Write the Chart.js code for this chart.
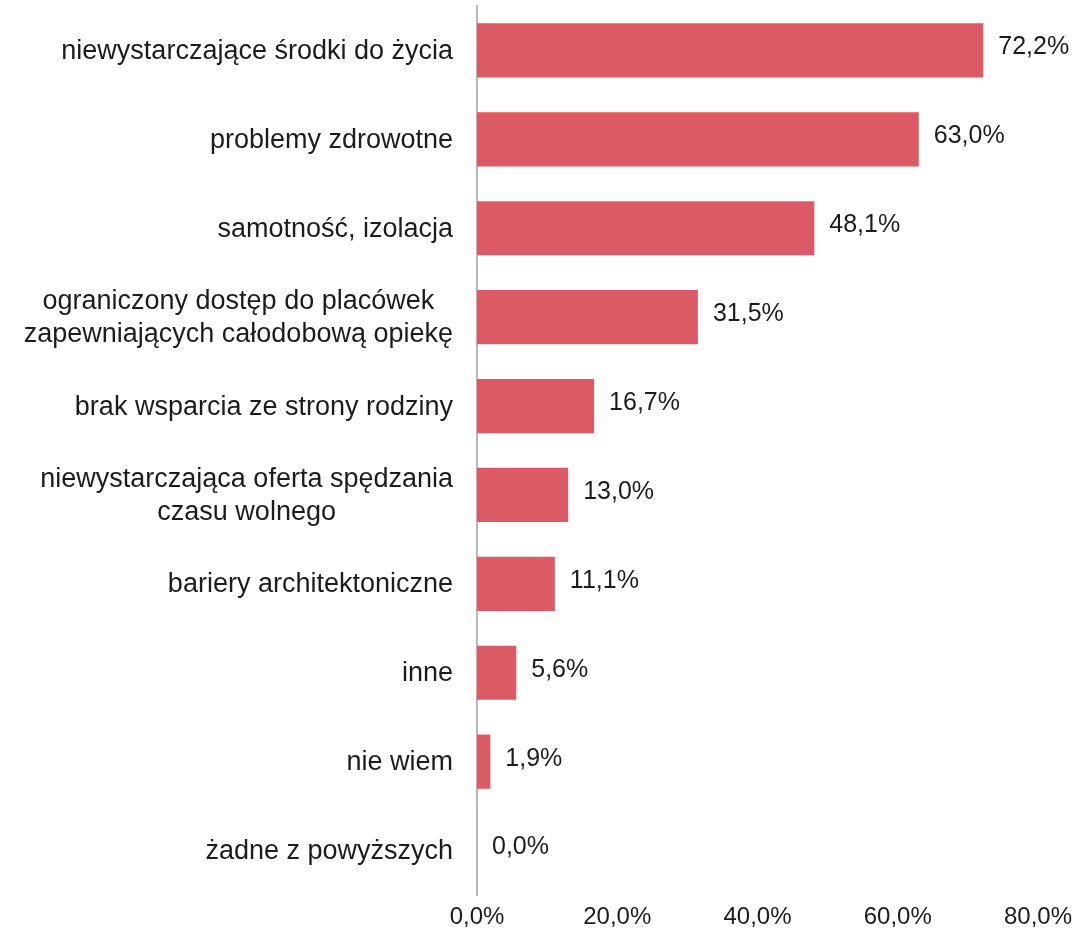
<!DOCTYPE html>
<html><head><meta charset="utf-8">
<script src="https://cdn.jsdelivr.net/npm/chart.js@4/dist/chart.umd.min.js"></script>
<style>html,body{margin:0;padding:0;background:#fff}#w{width:1091px;height:937px}</style>
</head><body><div id="w"><canvas id="c"></canvas></div>
<script>
const categories = [
  "niewystarczające środki do życia",
  "problemy zdrowotne",
  "samotność, izolacja",
  ["ograniczony dostęp do placówek", "zapewniających całodobową opiekę"],
  "brak wsparcia ze strony rodziny",
  ["niewystarczająca oferta spędzania", "czasu wolnego"],
  "bariery architektoniczne",
  "inne",
  "nie wiem",
  "żadne z powyższych"
];
const values = [72.2, 63.0, 48.1, 31.5, 16.7, 13.0, 11.1, 5.6, 1.9, 0.0];
const xTicks = [0, 20, 40, 60, 80];
const fmt = v => v.toFixed(1).replace('.', ',') + '%';
const FONT = '"Liberation Sans", Arial, sans-serif';

const valueLabels = {
  id: 'valueLabels',
  afterDatasetsDraw(chart) {
    const ctx = chart.ctx;
    const meta = chart.getDatasetMeta(0);
    ctx.save();
    ctx.font = '25px ' + FONT;
    ctx.fillStyle = '#1c1c1c';
    ctx.textAlign = 'left';
    ctx.textBaseline = 'middle';
    meta.data.forEach((bar, i) => {
      ctx.fillText(fmt(values[i]), bar.x + 15, bar.y - 3);
    });
    ctx.restore();
  }
};

const categoryLabels = {
  id: 'categoryLabels',
  afterDraw(chart) {
    const ctx = chart.ctx;
    const y = chart.scales.y;
    const right = y.right - 24;
    const lh = 33;
    ctx.save();
    ctx.font = '27px ' + FONT;
    ctx.fillStyle = '#1c1c1c';
    ctx.textAlign = 'center';
    ctx.textBaseline = 'middle';
    categories.forEach((lab, i) => {
      const lines = Array.isArray(lab) ? lab : [lab];
      const w = Math.max(...lines.map(l => ctx.measureText(l).width));
      const cx = right - w / 2;
      const cy = y.getPixelForTick(i);
      const y0 = cy - (lines.length - 1) * lh / 2;
      lines.forEach((l, k) => ctx.fillText(l, cx, y0 + k * lh + 1));
    });
    ctx.restore();
  }
};

new Chart(document.getElementById('c'), {
  type: 'bar',
  data: {
    labels: categories,
    datasets: [{
      data: values,
      backgroundColor: '#dc5a66',
      categoryPercentage: 0.61,
      barPercentage: 1.0
    }]
  },
  options: {
    indexAxis: 'y',
    responsive: true,
    maintainAspectRatio: false,
    animation: false,
    layout: { padding: { top: 6, right: 53, bottom: 0, left: 0 } },
    plugins: { legend: { display: false }, tooltip: { enabled: false } },
    scales: {
      x: {
        min: 0, max: 80,
        afterBuildTicks(axis) { axis.ticks = xTicks.map(v => ({ value: v })); },
        grid: { display: false, drawTicks: false },
        border: { display: false },
        ticks: {
          color: '#1c1c1c',
          font: { size: 24, family: FONT },
          padding: 8,
          callback: v => fmt(v)
        },
        afterFit(axis) { axis.height = 42; axis.paddingLeft = 0; axis.paddingRight = 0; }
      },
      y: {
        grid: { display: false, drawTicks: false },
        border: { display: true, color: '#b8b8b8', width: 2 },
        ticks: { display: false },
        afterFit(axis) { axis.width = 477; axis.paddingTop = 0; axis.paddingBottom = 0; }
      }
    }
  },
  plugins: [valueLabels, categoryLabels]
});
</script>
</body></html>
